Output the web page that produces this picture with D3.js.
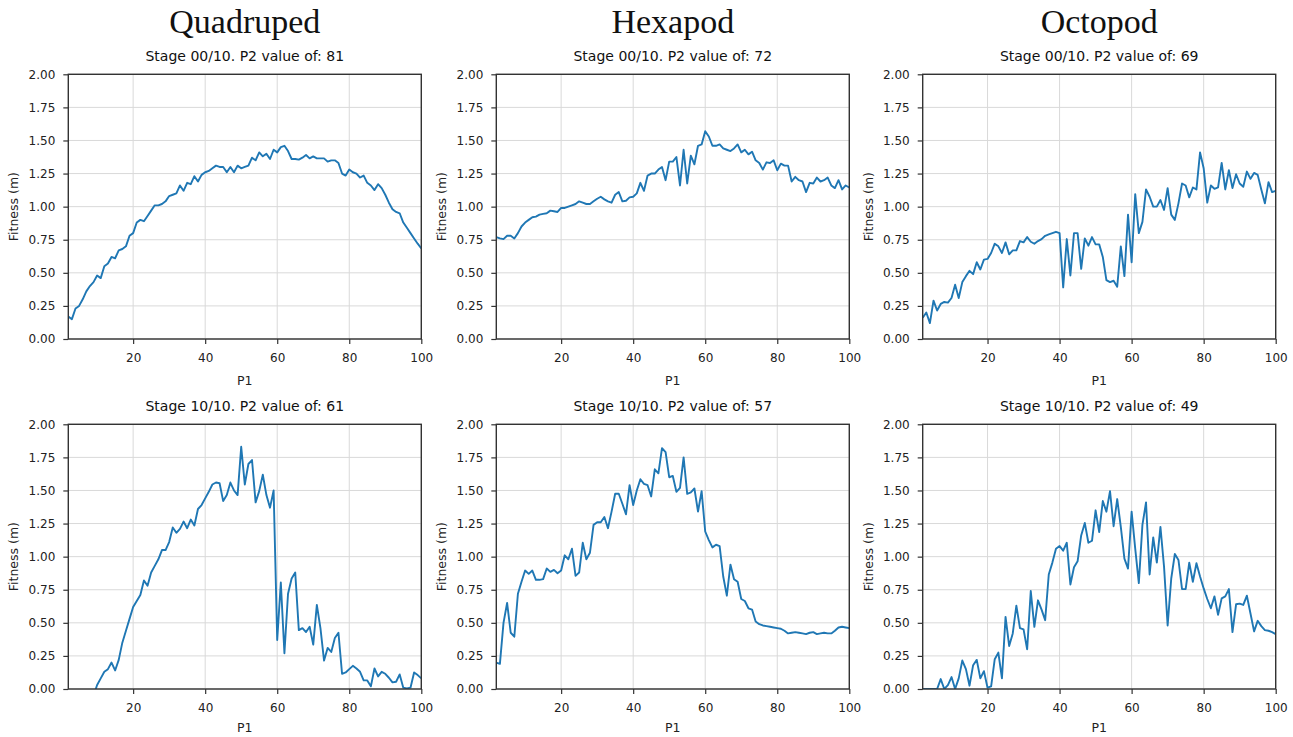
<!DOCTYPE html>
<html>
<head>
<meta charset="utf-8">
<script src="https://cdn.jsdelivr.net/npm/d3@7"></script>
<style>
  body { margin: 0; background: #fff; }
  svg { display: block; }
</style>
</head>
<body>
<svg id="chart" width="1293" height="737"></svg>
<script>
// P1 sweep (x axis)
const p1 = d3.range(2, 101);

const robots = ["Quadruped", "Hexapod", "Octopod"];
const stageLabels = ["Stage 00/10", "Stage 10/10"];
const p2Values = [[81, 72, 69], [61, 57, 49]];

const xTicks = [20, 40, 60, 80, 100];
const yTicks = [0, 0.25, 0.5, 0.75, 1.0, 1.25, 1.5, 1.75, 2.0];

// fitness (m), stage 00/10
const quadStage0 = [
  0.17, 0.15, 0.23, 0.25, 0.30, 0.36, 0.40, 0.43, 0.48, 0.46,
  0.55, 0.57, 0.62, 0.61, 0.67, 0.68, 0.70, 0.78, 0.80, 0.88,
  0.90, 0.89, 0.93, 0.97, 1.01, 1.01, 1.02, 1.04, 1.08, 1.09,
  1.10, 1.16, 1.12, 1.18, 1.17, 1.23, 1.19, 1.24, 1.26, 1.27,
  1.29, 1.31, 1.30, 1.30, 1.26, 1.30, 1.26, 1.31, 1.29, 1.30,
  1.31, 1.37, 1.35, 1.41, 1.38, 1.40, 1.36, 1.43, 1.41, 1.45,
  1.46, 1.42, 1.36, 1.36, 1.355, 1.37, 1.39, 1.365, 1.38, 1.365,
  1.365, 1.365, 1.34, 1.35, 1.35, 1.33, 1.25, 1.235, 1.28, 1.26,
  1.25, 1.22, 1.235, 1.18, 1.16, 1.125, 1.17, 1.14, 1.09, 1.03,
  0.98, 0.96, 0.95, 0.88, 0.84, 0.80, 0.76, 0.72, 0.685
];
const hexStage0 = [
  0.77, 0.76, 0.755, 0.78, 0.78, 0.76, 0.80, 0.85, 0.88, 0.90,
  0.92, 0.925, 0.94, 0.945, 0.95, 0.97, 0.965, 0.96, 0.99, 0.99,
  1.00, 1.01, 1.02, 1.04, 1.03, 1.02, 1.02, 1.04, 1.06, 1.075,
  1.055, 1.04, 1.03, 1.09, 1.11, 1.04, 1.045, 1.07, 1.075, 1.10,
  1.18, 1.12, 1.235, 1.25, 1.25, 1.28, 1.30, 1.20, 1.34, 1.34,
  1.375, 1.16, 1.43, 1.175, 1.385, 1.32, 1.46, 1.47, 1.57, 1.53,
  1.46, 1.46, 1.47, 1.44, 1.43, 1.42, 1.44, 1.47, 1.41, 1.43,
  1.395, 1.415, 1.35, 1.33, 1.28, 1.335, 1.33, 1.35, 1.275, 1.325,
  1.31, 1.31, 1.19, 1.225, 1.20, 1.19, 1.11, 1.18, 1.175, 1.22,
  1.19, 1.20, 1.22, 1.16, 1.14, 1.20, 1.13, 1.16, 1.145
];
const octoStage0 = [
  0.16, 0.20, 0.12, 0.29, 0.215, 0.265, 0.28, 0.275, 0.31, 0.41,
  0.31, 0.43, 0.475, 0.515, 0.49, 0.58, 0.525, 0.60, 0.605, 0.65,
  0.72, 0.70, 0.65, 0.73, 0.64, 0.67, 0.67, 0.74, 0.73, 0.77,
  0.735, 0.72, 0.74, 0.755, 0.78, 0.79, 0.80, 0.81, 0.80, 0.39,
  0.755, 0.48, 0.80, 0.80, 0.53, 0.76, 0.705, 0.77, 0.715, 0.715,
  0.62, 0.445, 0.43, 0.44, 0.395, 0.70, 0.475, 0.94, 0.58, 1.095,
  0.80, 0.885, 1.13, 1.075, 1.00, 1.00, 1.05, 0.975, 1.14, 0.94,
  0.90, 1.025, 1.175, 1.16, 1.07, 1.145, 1.13, 1.41, 1.29, 1.03,
  1.16, 1.135, 1.145, 1.33, 1.13, 1.275, 1.14, 1.245, 1.175, 1.15,
  1.265, 1.21, 1.255, 1.24, 1.13, 1.025, 1.185, 1.11, 1.12
];

// fitness (m), stage 10/10
const quadStage10 = [
  -0.30, -0.26, -0.22, -0.20, -0.16, -0.14, -0.10, -0.05, 0.03, 0.08,
  0.13, 0.15, 0.20, 0.14, 0.22, 0.35, 0.44, 0.53, 0.62, 0.665,
  0.71, 0.82, 0.78, 0.88, 0.93, 0.98, 1.05, 1.05, 1.11, 1.22,
  1.18, 1.21, 1.265, 1.215, 1.28, 1.235, 1.36, 1.39, 1.44, 1.49,
  1.545, 1.56, 1.555, 1.42, 1.465, 1.56, 1.50, 1.465, 1.83, 1.545,
  1.70, 1.73, 1.41, 1.495, 1.62, 1.465, 1.37, 1.50, 0.37, 0.805,
  0.27, 0.72, 0.835, 0.88, 0.445, 0.46, 0.43, 0.47, 0.335, 0.635,
  0.46, 0.215, 0.31, 0.28, 0.385, 0.425, 0.115, 0.125, 0.15, 0.175,
  0.155, 0.13, 0.065, 0.065, 0.02, 0.155, 0.095, 0.13, 0.115, 0.085,
  0.05, 0.055, 0.11, 0.01, 0.005, 0.01, 0.125, 0.105, 0.08
];
const hexStage10 = [
  0.20, 0.19, 0.50, 0.65, 0.425, 0.395, 0.72, 0.81, 0.895, 0.87,
  0.895, 0.825, 0.825, 0.83, 0.91, 0.885, 0.90, 0.875, 0.895, 1.01,
  0.98, 1.06, 0.855, 0.88, 1.105, 0.98, 1.03, 1.24, 1.26, 1.26,
  1.30, 1.215, 1.34, 1.475, 1.475, 1.40, 1.32, 1.54, 1.39, 1.50,
  1.585, 1.55, 1.54, 1.455, 1.66, 1.63, 1.82, 1.79, 1.60, 1.61,
  1.49, 1.52, 1.75, 1.475, 1.485, 1.515, 1.34, 1.495, 1.19, 1.125,
  1.07, 1.09, 1.08, 0.85, 0.705, 0.94, 0.83, 0.81, 0.68, 0.665,
  0.61, 0.60, 0.51, 0.49, 0.48, 0.475, 0.47, 0.465, 0.46, 0.455,
  0.44, 0.42, 0.425, 0.43, 0.425, 0.42, 0.415, 0.425, 0.43, 0.415,
  0.42, 0.425, 0.42, 0.42, 0.44, 0.465, 0.47, 0.465, 0.46
];
const octoStage10 = [
  0.0, 0.0, 0.0, 0.0, 0.0, 0.075, 0.0, 0.03, 0.09, 0.0,
  0.08, 0.215, 0.15, 0.025, 0.18, 0.22, 0.08, 0.135, 0.01, 0.02,
  0.225, 0.275, 0.08, 0.545, 0.325, 0.42, 0.63, 0.46, 0.45, 0.30,
  0.74, 0.47, 0.67, 0.60, 0.52, 0.865, 0.955, 1.06, 1.08, 1.045,
  1.105, 0.79, 0.92, 0.965, 1.16, 1.255, 1.105, 1.12, 1.35, 1.185,
  1.42, 1.34, 1.495, 1.23, 1.435, 1.225, 0.985, 0.91, 1.34, 1.06,
  0.80, 1.24, 1.41, 0.865, 1.145, 0.955, 1.225, 0.925, 0.48, 0.835,
  1.02, 0.975, 0.755, 0.755, 0.955, 0.81, 0.95, 0.85, 0.76, 0.68,
  0.61, 0.70, 0.56, 0.685, 0.70, 0.755, 0.43, 0.64, 0.645, 0.635,
  0.705, 0.57, 0.435, 0.515, 0.475, 0.445, 0.44, 0.43, 0.415
];

const series = [
  [quadStage0, hexStage0, octoStage0],
  [quadStage10, hexStage10, octoStage10]
];

// layout
const colLeft = [68.3, 496.3, 922.7];
const rowTop = [74.3, 424.3];
const xLabelOffset = [46, 43];
const plotW = 353;
const plotH = 264.7;

const svg = d3.select("#chart");
const sans = "DejaVu Sans, sans-serif";

robots.forEach((name, c) => {
  svg.append("text")
    .attr("x", colLeft[c] + plotW / 2)
    .attr("y", 33)
    .attr("text-anchor", "middle")
    .attr("font-family", "Liberation Serif, serif")
    .attr("font-size", 34)
    .attr("fill", "#111")
    .text(name);
});

rowTop.forEach((top, r) => {
  colLeft.forEach((left, c) => {
    let g = svg.append("g").attr("transform", `translate(${left},${top})`);
    let x = d3.scaleLinear().domain([2, 100]).range([0, plotW]);
    let y = d3.scaleLinear().domain([0, 2]).range([plotH, 0]);
    let clipId = `clip-${r}-${c}`;

    g.append("clipPath").attr("id", clipId)
      .append("rect").attr("width", plotW).attr("height", plotH);

    // grid
    g.append("g").selectAll("line").data(xTicks).enter().append("line")
      .attr("x1", (d) => x(d)).attr("x2", (d) => x(d))
      .attr("y1", 0).attr("y2", plotH)
      .attr("stroke", "#d9d9d9").attr("stroke-width", 1);
    g.append("g").selectAll("line").data(yTicks).enter().append("line")
      .attr("x1", 0).attr("x2", plotW)
      .attr("y1", (d) => y(d)).attr("y2", (d) => y(d))
      .attr("stroke", "#d9d9d9").attr("stroke-width", 1);

    // line
    let line = d3.line().x((d, i) => x(p1[i])).y((d) => y(d));
    g.append("path")
      .datum(series[r][c])
      .attr("clip-path", `url(#${clipId})`)
      .attr("d", line)
      .attr("fill", "none")
      .attr("stroke", "#1f77b4")
      .attr("stroke-width", 1.9)
      .attr("stroke-linejoin", "round");

    // axes
    let xAxis = g.append("g").attr("transform", `translate(0,${plotH})`)
      .call(d3.axisBottom(x).tickValues(xTicks).tickSize(5).tickPadding(9));
    let yAxis = g.append("g")
      .call(d3.axisLeft(y).tickValues(yTicks).tickSize(5).tickPadding(8)
        .tickFormat(d3.format(".2f")));
    [xAxis, yAxis].forEach((a) => {
      a.select(".domain").remove();
      a.selectAll("line").attr("stroke", "#333").attr("stroke-width", 1.2);
      a.selectAll("text").attr("font-family", sans).attr("font-size", 12)
        .attr("fill", "#222");
    });

    g.append("rect")
      .attr("width", plotW).attr("height", plotH)
      .attr("fill", "none").attr("stroke", "#333").attr("stroke-width", 1.4);

    // titles and labels
    g.append("text")
      .attr("x", plotW / 2).attr("y", -13)
      .attr("text-anchor", "middle")
      .attr("font-family", sans).attr("font-size", 14).attr("fill", "#111")
      .text(`${stageLabels[r]}. P2 value of: ${p2Values[r][c]}`);

    g.append("text")
      .attr("x", plotW / 2).attr("y", plotH + xLabelOffset[r])
      .attr("text-anchor", "middle")
      .attr("font-family", sans).attr("font-size", 12.5).attr("fill", "#222")
      .text("P1");

    g.append("text")
      .attr("transform", `translate(-50,${plotH / 2}) rotate(-90)`)
      .attr("text-anchor", "middle")
      .attr("font-family", sans).attr("font-size", 12.5).attr("fill", "#222")
      .text("Fitness (m)");
  });
});
</script>
</body>
</html>
